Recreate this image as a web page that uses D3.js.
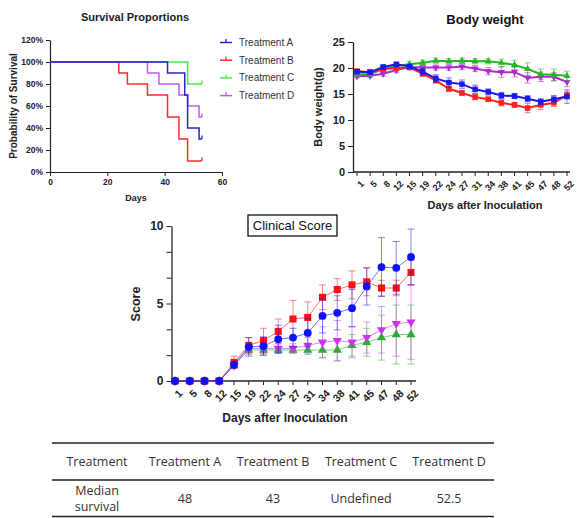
<!DOCTYPE html>
<html><head><meta charset="utf-8">
<script src="https://cdn.jsdelivr.net/npm/d3@7/dist/d3.min.js"></script>
<style>
body{margin:0;background:#fff;}
svg text{font-family:Arial,"Liberation Sans",sans-serif;}
</style></head><body>
<svg id="c" width="584" height="518"></svg>
<script>
// ---------- DATA ----------
const treatments = ["Treatment A","Treatment B","Treatment C","Treatment D"];
// survival steps [day, proportion]
const survA = [[0,1],[41,0.9],[47,0.7],[48,0.4],[52,0.3],[53,0.3]];
const survB = [[0,1],[24,0.9],[27,0.8],[34,0.7],[41,0.5],[45,0.3],[48,0.1],[53,0.1]];
const survC = [[0,1],[48,0.8],[53,0.8]];
const survD = [[0,1],[34,0.9],[38,0.8],[45,0.7],[48,0.6],[52,0.5],[53,0.5]];
const survTicksY = [0,0.2,0.4,0.6,0.8,1.0,1.2];
const survTicksX = [0,20,40,60];

const days = ["1","5","8","12","15","19","22","24","27","31","34","38","41","45","47","48","52"];
// body weight mean and error
const bwA = [19.3,19.2,20.2,20.7,20.3,19.3,18.0,17.2,16.9,15.9,15.4,14.7,14.6,14.1,13.5,14.0,14.5];
const bwAerr = [0.4,0.4,0.4,0.4,0.4,0.6,0.7,0.9,0.8,0.8,0.6,0.6,0.5,0.6,0.6,0.7,1.3];
const bwB = [19.4,19.2,19.8,20.0,20.1,18.9,17.6,16.0,15.2,14.4,14.0,13.3,12.9,12.3,12.9,13.3,14.8];
const bwBerr = [0.3,0.3,0.4,0.4,0.4,0.5,0.5,0.5,0.5,0.5,0.4,0.6,0.5,0.9,0.9,0.7,0.6];
const bwC = [18.8,18.8,19.8,20.4,20.7,21.0,21.4,21.3,21.4,21.3,21.3,21.0,20.6,19.8,18.8,18.7,18.5];
const bwCerr = [0.3,0.3,0.4,0.4,0.6,0.5,0.5,0.5,0.5,0.5,0.5,0.7,0.9,1.2,1.0,1.1,0.9];
const bwD = [18.4,18.5,18.9,19.6,20.2,20.1,20.1,20.1,20.3,19.9,19.4,19.2,19.2,18.1,18.3,18.3,17.3];
const bwDerr = [0.3,0.3,0.5,0.5,0.4,0.5,0.5,0.6,0.6,0.6,0.7,1.0,0.9,1.0,0.9,0.8,0.9];
const bwTicks = [0,5,10,15,20,25];

// clinical score mean and error
const csA = [0,0,0,0,1.05,2.2,2.25,2.7,2.8,3.1,4.2,4.4,4.7,6.1,7.35,7.3,8.0];
const csAerr = [0,0,0,0,0.2,0.6,0.6,0.9,0.6,0.9,1.1,1.1,1.2,1.2,1.9,1.7,1.8];
const csB = [0,0,0,0,1.2,2.3,2.6,3.2,4.0,4.1,5.4,5.9,6.2,6.4,6.0,6.0,7.0];
const csBerr = [0,0,0,0,0.4,0.5,0.8,0.8,1.2,1.0,0.8,0.7,0.9,0.9,0.5,0.5,0.8];
const csC = [0,0,0,0,1.0,2.0,2.0,2.0,2.0,2.0,2.0,2.0,2.3,2.5,2.8,3.0,3.0];
const csCerr = [0,0,0,0,0.1,0.3,0.3,0.2,0.2,0.3,0.5,0.7,0.7,0.9,1.45,1.9,1.9];
const csD = [0,0,0,0,1.0,2.1,2.1,2.1,2.1,2.3,2.5,2.6,2.5,2.8,3.3,3.7,3.8];
const csDerr = [0,0,0,0,0.1,0.3,0.3,0.3,0.3,0.5,1.0,1.3,1.0,1.0,1.5,2.1,2.4];
const csTicks = [0,5,10];

// table
const tableHeader = ["Treatment","Treatment A","Treatment B","Treatment C","Treatment D"];
const tableRow = [["Median","survival"],["48"],["43"],["Undefined"],["52.5"]];

// ---------- DRAW ----------
const svg = d3.select("#c");
const survColors = ["#2626cc","#ff2b2b","#4ae84a","#c15cf0"];
const bwColors = ["#1a1aee","#ff1f1f","#22b822","#b02ad4"];
const csColors = ["#1010ff","#ff1010","#22b822","#cc33ee"];

// ===== Survival =====
(function(){
  const x = d3.scaleLinear([0,60],[50,222]);
  const y = d3.scaleLinear([0,1.2],[172,40]);
  const g = svg.append("g");
  g.append("g").attr("transform","translate(0,172)")
    .call(d3.axisBottom(x).tickValues(survTicksX).tickSize(4).tickSizeOuter(0))
    .call(a=>a.selectAll("text").attr("font-size",8.5).attr("font-weight","bold").attr("fill","#222"));
  g.append("g").attr("transform","translate(50,0)")
    .call(d3.axisLeft(y).tickValues(survTicksY).tickFormat(d3.format(".0%")).tickSize(4).tickSizeOuter(0))
    .call(a=>a.selectAll("text").attr("font-size",8.5).attr("font-weight","bold").attr("fill","#222"));
  g.selectAll(".domain").attr("stroke","#222").attr("stroke-width",1.2);
  g.selectAll(".tick line").attr("stroke","#222");
  const line = d3.line().x(d=>x(d[0])).y(d=>y(d[1])).curve(d3.curveStepAfter);
  const order = [2,1,3,0];
  const data = [survA,survB,survC,survD];
  order.forEach(i=>{
    g.append("path").attr("d",line(data[i])).attr("fill","none")
      .attr("stroke",survColors[i]).attr("stroke-width",1.5);
    const last = data[i][data[i].length-1];
    g.append("line").attr("x1",x(last[0])).attr("x2",x(last[0]))
      .attr("y1",y(last[1])).attr("y2",y(last[1])-3.5)
      .attr("stroke",survColors[i]).attr("stroke-width",1.3);
  });
  g.append("text").attr("x",135).attr("y",21).attr("text-anchor","middle")
    .attr("font-size",11).attr("font-weight","bold").attr("fill","#222").text("Survival Proportions");
  g.append("text").attr("x",136).attr("y",201).attr("text-anchor","middle")
    .attr("font-size",9).attr("font-weight","bold").attr("fill","#222").text("Days");
  g.append("text").attr("transform","translate(17,106) rotate(-90)").attr("text-anchor","middle")
    .attr("font-size",10).attr("font-weight","bold").attr("fill","#222").text("Probability of Survival");
  treatments.forEach((t,i)=>{
    const ly = 42.5 + i*17.7;
    g.append("line").attr("x1",220).attr("x2",232).attr("y1",ly).attr("y2",ly)
      .attr("stroke",survColors[i]).attr("stroke-width",1.5);
    g.append("line").attr("x1",226).attr("x2",226).attr("y1",ly).attr("y2",ly-3.5)
      .attr("stroke",survColors[i]).attr("stroke-width",1.3);
    g.append("text").attr("x",239).attr("y",ly+3.5).attr("font-size",10).attr("fill","#333").text(t);
  });
})();

// marker symbols
const symTypes = [d3.symbolCircle,d3.symbolSquare,d3.symbolTriangle,d3.symbolTriangle];

function drawSeries(g,x,y,vals,errs,color,symIdx,opts){
  const pts = days.map((d,i)=>({x:x(d),v:vals[i],e:errs[i]}));
  // error bars
  const eg = g.append("g").attr("stroke",color).attr("stroke-opacity",opts.errOp).attr("stroke-width",1);
  pts.forEach(p=>{
    if(p.e<=0) return;
    eg.append("line").attr("x1",p.x).attr("x2",p.x).attr("y1",y(p.v-p.e)).attr("y2",y(p.v+p.e));
    [p.v-p.e,p.v+p.e].forEach(v=>eg.append("line").attr("x1",p.x-opts.cap).attr("x2",p.x+opts.cap).attr("y1",y(v)).attr("y2",y(v)));
  });
  g.append("path").datum(pts).attr("fill","none").attr("stroke",color)
    .attr("stroke-width",opts.lw).attr("stroke-opacity",opts.lineOp)
    .attr("d",d3.line().x(p=>p.x).y(p=>y(p.v)));
  const sz = (symIdx>=2) ? opts.size*0.72 : opts.size;
  const sym = d3.symbol().type(symTypes[symIdx]).size(sz);
  pts.forEach(p=>{
    g.append("path").attr("d",sym()).attr("fill",color)
      .attr("transform",`translate(${p.x},${y(p.v)})${symIdx===3?" rotate(180)":""}`);
  });
}

function catAxis(g,x,axisY,x0,x1,fs){
  g.append("line").attr("x1",x0).attr("x2",x1).attr("y1",axisY).attr("y2",axisY).attr("stroke","#222").attr("stroke-width",1.3);
  days.forEach(d=>{
    g.append("line").attr("x1",x(d)).attr("x2",x(d)).attr("y1",axisY).attr("y2",axisY+4).attr("stroke","#222");
    g.append("text").attr("transform",`translate(${x(d)+3},${axisY+8}) rotate(-45)`)
      .attr("text-anchor","end").attr("dy","0.7em").attr("font-size",fs).attr("font-weight","bold").attr("fill","#222").text(d);
  });
}

// ===== Body weight =====
(function(){
  const x = d3.scalePoint(days,[357,567]);
  const y = d3.scaleLinear([0,25],[172,42]);
  const g = svg.append("g");
  catAxis(g,x,172,353,570,9);
  g.append("g").attr("transform","translate(353,0)")
    .call(d3.axisLeft(y).tickValues(bwTicks).tickSize(5).tickSizeOuter(0))
    .call(a=>a.selectAll("text").attr("font-size",11).attr("font-weight","bold").attr("fill","#222"))
    .call(a=>a.select(".domain").attr("stroke","#222").attr("stroke-width",1.3))
    .call(a=>a.selectAll(".tick line").attr("stroke","#222"));
  const vals=[bwA,bwB,bwC,bwD], errs=[bwAerr,bwBerr,bwCerr,bwDerr];
  [3,2,1,0].forEach(i=>drawSeries(g,x,y,vals[i],errs[i],bwColors[i],i===0?1:i,{errOp:0.55,cap:3,lw:2,lineOp:1,size:30}));
  g.append("text").attr("x",485).attr("y",24).attr("text-anchor","middle")
    .attr("font-size",13).attr("font-weight","bold").attr("fill","#111").text("Body weight");
  g.append("text").attr("x",485).attr("y",209).attr("text-anchor","middle")
    .attr("font-size",11).attr("font-weight","bold").attr("fill","#222").text("Days after Inoculation");
  g.append("text").attr("transform","translate(322,107) rotate(-90)").attr("text-anchor","middle")
    .attr("font-size",11).attr("font-weight","bold").attr("fill","#222").text("Body weight(g)");
})();

// ===== Clinical Score =====
(function(){
  const x = d3.scalePoint(days,[175,411]);
  const y = d3.scaleLinear([0,10],[381,226]);
  const g = svg.append("g");
  catAxis(g,x,381,171.5,416,10.5);
  const minor = d3.range(0,10.01,5/3);
  g.append("g").attr("transform","translate(171.5,0)")
    .call(d3.axisLeft(y).tickValues(minor).tickFormat(d=>{const r=Math.round(d*100)/100; return csTicks.includes(r)?r:"";}).tickSize(5).tickSizeOuter(0))
    .call(a=>a.selectAll("text").attr("font-size",12).attr("font-weight","bold").attr("fill","#222"))
    .call(a=>a.select(".domain").attr("stroke","#222").attr("stroke-width",1.3))
    .call(a=>a.selectAll(".tick line").attr("stroke","#222"));
  const vals=[csA,csB,csC,csD], errs=[csAerr,csBerr,csCerr,csDerr];
  [2,3,1,0].forEach(i=>drawSeries(g,x,y,vals[i],errs[i],csColors[i],i,{errOp:0.5,cap:3.5,lw:1,lineOp:0.6,size:i===0?48:50}));
  g.append("rect").attr("x",248).attr("y",215).attr("width",89).attr("height",21)
    .attr("fill","#fff").attr("stroke","#111").attr("stroke-width",1.3);
  g.append("text").attr("x",292.5).attr("y",230).attr("text-anchor","middle")
    .attr("font-size",13).attr("fill","#111").text("Clinical Score");
  g.append("text").attr("x",285).attr("y",422).attr("text-anchor","middle")
    .attr("font-size",12).attr("font-weight","bold").attr("fill","#222").text("Days after Inoculation");
  g.append("text").attr("transform","translate(140,304) rotate(-90)").attr("text-anchor","middle")
    .attr("font-size",12.5).attr("font-weight","bold").attr("fill","#222").text("Score");
})();

// ===== Table =====
(function(){
  const cols = d3.scalePoint(d3.range(tableHeader.length),[97,449]);
  const g = svg.append("g").attr("font-family","'Open Sans','Noto Sans',sans-serif");
  [443,480,516.5].forEach(yy=>g.append("line").attr("x1",52).attr("x2",494).attr("y1",yy).attr("y2",yy)
    .attr("stroke","#222").attr("stroke-width",1.4));
  tableHeader.forEach((t,i)=>g.append("text").attr("x",cols(i)).attr("y",466).attr("text-anchor","middle")
    .attr("font-size",12.5).attr("fill","#333").style("font-family","'Open Sans','Noto Sans',sans-serif").text(t));
  tableRow.forEach((cell,i)=>{
    if(cell.length===2){
      cell.forEach((t,j)=>g.append("text").attr("x",cols(i)).attr("y",495+j*15.5).attr("text-anchor","middle")
        .attr("font-size",12.5).attr("fill","#333").style("font-family","'Open Sans','Noto Sans',sans-serif").text(t));
    } else {
      g.append("text").attr("x",cols(i)).attr("y",503).attr("text-anchor","middle")
        .attr("font-size",12.5).attr("fill","#333").style("font-family","'Open Sans','Noto Sans',sans-serif").text(cell[0]);
    }
  });
})();
</script>
</body></html>
